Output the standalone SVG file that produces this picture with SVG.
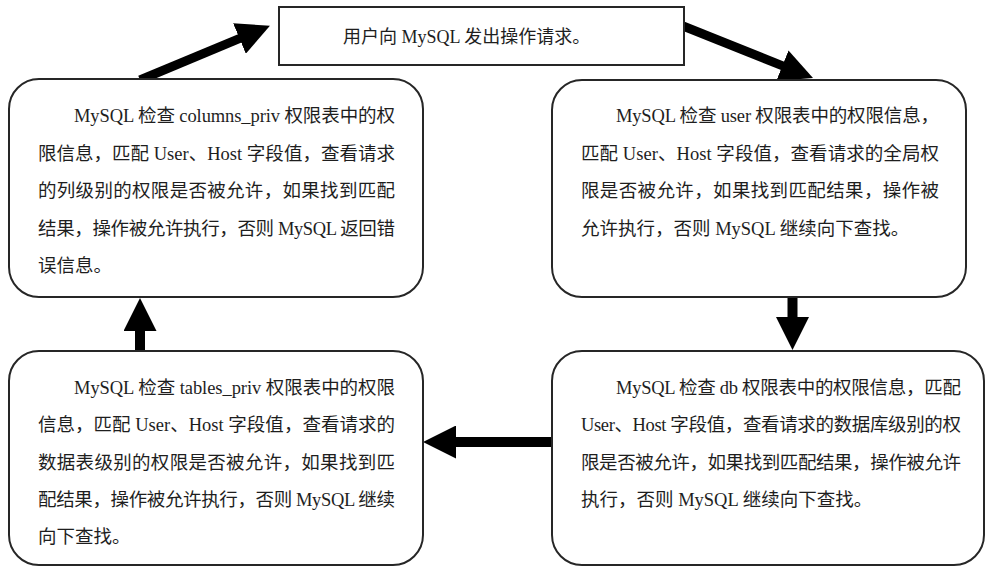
<svg xmlns="http://www.w3.org/2000/svg" width="987" height="566" viewBox="0 0 987 566">
<defs>
<style>
.box{fill:#fff;stroke:#262626;stroke-width:2}
.t{font-family:"Liberation Serif","Noto Sans CJK SC",serif;font-size:18.5px;fill:#1e1e1e}
.c{stroke:#000;stroke-width:10;fill:none;marker-end:url(#ah)}
</style>
<marker id="ah" markerUnits="userSpaceOnUse" markerWidth="33" markerHeight="33" refX="1" refY="16.5" orient="auto" viewBox="0 0 33 33">
<path d="M0,0 L33,16.5 L0,33 z" fill="#000"/>
</marker>
</defs>
<rect width="987" height="566" fill="#fff"/>
<g id="connectors">
<line class="c" x1="140" y1="80" x2="240.4" y2="38.1" style="stroke-width:9"/>
<line class="c" x1="683" y1="26" x2="783.3" y2="66.1" style="stroke-width:9"/>
<line class="c" x1="792.5" y1="297" x2="792.5" y2="318"/>
<line class="c" x1="552" y1="442" x2="455" y2="442"/>
<line class="c" x1="140" y1="351" x2="140" y2="330"/>
</g>
<g id="request">
<rect class="box" x="279" y="7" width="405" height="58"/>
<text class="t" x="343" y="43" style="font-size:18px">用户向 MySQL 发出操作请求。</text>
</g>
<g id="columns_priv">
<rect class="box" x="9" y="79" width="414" height="218" rx="30" ry="30"/>
<text class="t" x="74" y="122" textLength="321">MySQL 检查 columns_priv 权限表中的权</text>
<text class="t" x="38" y="159.5" textLength="357">限信息，匹配 User、Host 字段值，查看请求</text>
<text class="t" x="38" y="197" textLength="357">的列级别的权限是否被允许，如果找到匹配</text>
<text class="t" x="38" y="234.5" textLength="357">结果，操作被允许执行，否则 MySQL 返回错</text>
<text class="t" x="38" y="272">误信息。</text>
</g>
<g id="user">
<rect class="box" x="552" y="80" width="414" height="217" rx="30" ry="30"/>
<text class="t" x="616" y="122" textLength="323">MySQL 检查 user 权限表中的权限信息，</text>
<text class="t" x="581" y="159.5" textLength="358">匹配 User、Host 字段值，查看请求的全局权</text>
<text class="t" x="581" y="197" textLength="358">限是否被允许，如果找到匹配结果，操作被</text>
<text class="t" x="581" y="234.5">允许执行，否则 MySQL 继续向下查找。</text>
</g>
<g id="db">
<rect class="box" x="552" y="351" width="432" height="214" rx="30" ry="30"/>
<text class="t" x="616" y="394" textLength="345">MySQL 检查 db 权限表中的权限信息，匹配</text>
<text class="t" x="581" y="431" textLength="380">User、Host 字段值，查看请求的数据库级别的权</text>
<text class="t" x="581" y="468.5" textLength="380">限是否被允许，如果找到匹配结果，操作被允许</text>
<text class="t" x="581" y="506">执行，否则 MySQL 继续向下查找。</text>
</g>
<g id="tables_priv">
<rect class="box" x="9" y="351" width="414" height="214" rx="30" ry="30"/>
<text class="t" x="74" y="394" textLength="321">MySQL 检查 tables_priv 权限表中的权限</text>
<text class="t" x="38" y="431" textLength="357">信息，匹配 User、Host 字段值，查看请求的</text>
<text class="t" x="38" y="468.5" textLength="357">数据表级别的权限是否被允许，如果找到匹</text>
<text class="t" x="38" y="506" textLength="357">配结果，操作被允许执行，否则 MySQL 继续</text>
<text class="t" x="38" y="543">向下查找。</text>
</g>
</svg>
